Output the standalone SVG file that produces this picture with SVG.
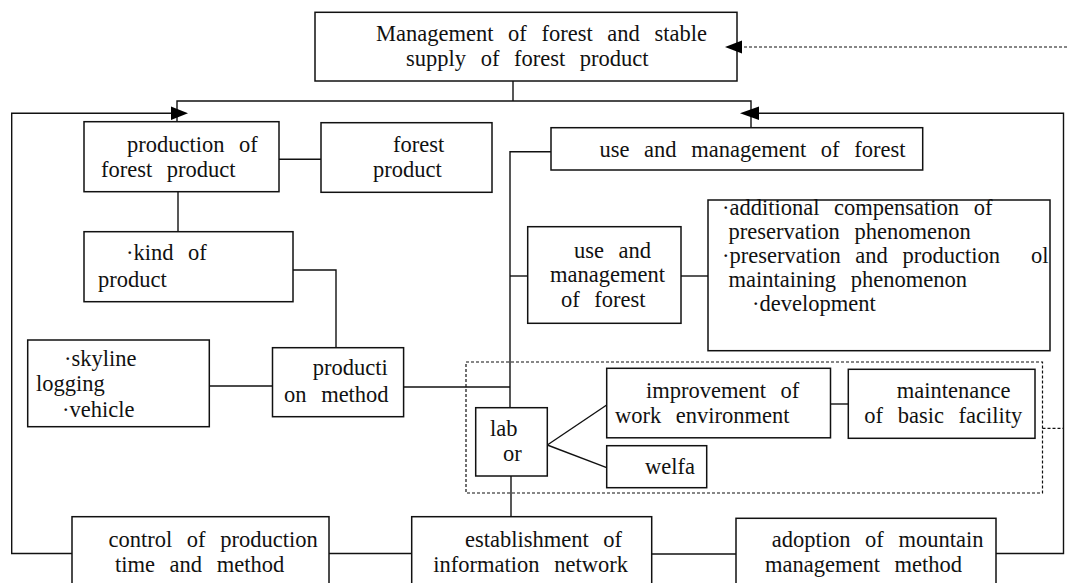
<svg xmlns="http://www.w3.org/2000/svg" width="1067" height="583" viewBox="0 0 1067 583">
<style>
  .box { fill: #fff; stroke: #111; stroke-width: 1.5; }
  .ln { fill: none; stroke: #111; stroke-width: 1.4; }
  .dot { fill: none; stroke: #111; stroke-width: 1.2; stroke-dasharray: 3 2; }
  .ah { fill: #000; }
  text { font-family: "Liberation Serif", "Times New Roman", serif; font-size: 22.5px; fill: #111; word-spacing: 9px; }
</style>
<rect width="1067" height="583" fill="#fff"/>
<g id="node-top">
  <rect class="box" x="315" y="12.3" width="422" height="68.7"/>
  <text x="376" y="41">Management of forest and stable</text>
  <text x="406" y="66">supply of forest product</text>
</g>
<g id="node-production">
  <rect class="box" x="84" y="121.7" width="195" height="70"/>
  <text x="127" y="152">production of</text>
  <text x="101" y="177">forest product</text>
</g>
<g id="node-forest-product">
  <rect class="box" x="321" y="122.7" width="171" height="69.6"/>
  <text x="393" y="152">forest</text>
  <text x="373" y="177">product</text>
</g>
<g id="node-use-top">
  <rect class="box" x="551" y="127.7" width="371.7" height="42.3"/>
  <text x="599.5" y="157">use and management of forest</text>
</g>
<g id="node-kind">
  <rect class="box" x="84" y="231.7" width="209" height="70"/>
  <text x="126" y="260">·kind of</text>
  <text x="98" y="286.7">product</text>
</g>
<g id="node-use-mid">
  <rect class="box" x="527.7" y="226.7" width="153.3" height="96.6"/>
  <text x="574" y="258.3">use and</text>
  <text x="550" y="282">management</text>
  <text x="561" y="306.7">of forest</text>
</g>
<g id="node-additional">
  <rect class="box" x="708" y="200" width="342" height="150.7"/>
  <text x="722" y="215">·additional compensation of</text>
  <text x="728.6" y="239.3">preservation phenomenon</text>
  <text x="722" y="263.3">·preservation and production</text>
  <text x="1031" y="263.3">ol</text>
  <text x="728.6" y="287.3">maintaining phenomenon</text>
  <text x="752" y="310.7">·development</text>
</g>
<g id="node-skyline">
  <rect class="box" x="27.7" y="340" width="181.6" height="86.7"/>
  <text x="64" y="365.5">·skyline</text>
  <text x="36" y="390.5">logging</text>
  <text x="62" y="416.7">·vehicle</text>
</g>
<g id="node-method">
  <rect class="box" x="272.5" y="347.7" width="131.1" height="69"/>
  <text x="312.7" y="375">producti</text>
  <text x="284" y="401.7">on method</text>
</g>
<g id="node-labor">
  <rect class="box" x="475.7" y="407.7" width="71.6" height="68.3"/>
  <text x="490" y="436">lab</text>
  <text x="503" y="461">or</text>
</g>
<g id="node-improvement">
  <rect class="box" x="606.7" y="368.3" width="223.8" height="69.5"/>
  <text x="646" y="398">improvement of</text>
  <text x="615" y="423.3">work environment</text>
</g>
<g id="node-maintenance">
  <rect class="box" x="848.3" y="369.3" width="186.7" height="69"/>
  <text x="896.7" y="398">maintenance</text>
  <text x="864.3" y="423.3">of basic facility</text>
</g>
<g id="node-welfa">
  <rect class="box" x="606.7" y="445.7" width="100" height="42"/>
  <text x="645" y="474.3">welfa</text>
</g>
<g id="node-control">
  <rect class="box" x="72" y="516.7" width="257" height="90"/>
  <text x="108.5" y="546.7">control of production</text>
  <text x="115" y="571.7">time and method</text>
</g>
<g id="node-establishment">
  <rect class="box" x="411.7" y="516.7" width="240" height="90"/>
  <text x="465" y="546.7">establishment of</text>
  <text x="433.3" y="571.7">information network</text>
</g>
<g id="node-adoption">
  <rect class="box" x="736" y="518.3" width="260" height="90"/>
  <text x="771.7" y="546.7">adoption of mountain</text>
  <text x="765" y="571.7">management method</text>
</g>
<g id="connectors">
  <line class="ln" x1="513" y1="81" x2="513" y2="101"/>
  <polyline class="ln" points="177,121.7 177,101 751,101 751,127.7"/>
  <polyline class="ln" points="72,553.5 11.7,553.5 11.7,113.3 180,113.3"/>
  <polygon class="ah" points="188,113.3 171,106.5 171,120"/>
  <polyline class="ln" points="996,553.5 1063.5,553.5 1063.5,113.3 750,113.3"/>
  <polygon class="ah" points="740,113.3 759,106.5 759,120"/>
  <line class="dot" x1="1067" y1="47" x2="738" y2="47"/>
  <polygon class="ah" points="725,47 742,40.5 742,53.5"/>
  <line class="ln" x1="279" y1="159.3" x2="321" y2="159.3"/>
  <line class="ln" x1="178" y1="191.7" x2="178" y2="231.7"/>
  <polyline class="ln" points="293,270 336,270 336,347.7"/>
  <line class="ln" x1="209.3" y1="386" x2="272.5" y2="386"/>
  <polyline class="ln" points="551,151.7 510,151.7 510,407.7"/>
  <line class="ln" x1="403.6" y1="387" x2="510" y2="387"/>
  <line class="ln" x1="510" y1="276" x2="527.7" y2="276"/>
  <line class="ln" x1="681" y1="276" x2="708" y2="276"/>
  <line class="ln" x1="547.3" y1="445" x2="606.7" y2="405"/>
  <line class="ln" x1="547.3" y1="445" x2="606.7" y2="467.7"/>
  <line class="ln" x1="830.5" y1="404" x2="848.3" y2="404"/>
  <line class="ln" x1="511" y1="476" x2="511" y2="516.7"/>
  <line class="ln" x1="329" y1="553.5" x2="411.7" y2="553.5"/>
  <line class="ln" x1="651.7" y1="554" x2="736" y2="554"/>
  <rect class="dot" x="466" y="362" width="576.5" height="131"/>
  <line class="dot" x1="1042.5" y1="428.3" x2="1063.5" y2="428.3"/>
</g>
</svg>
